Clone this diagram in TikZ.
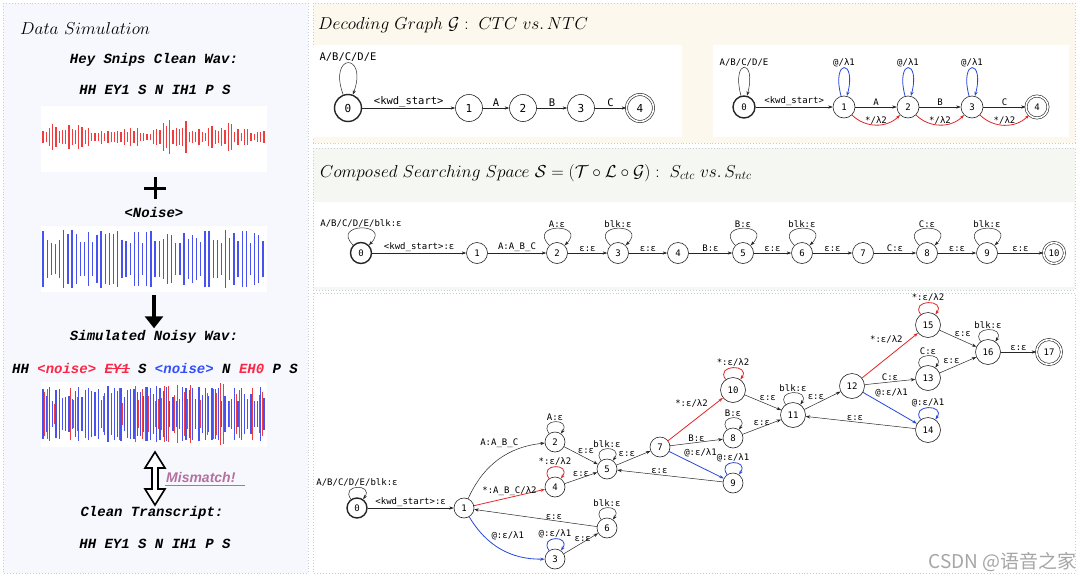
\documentclass[tikz,border=0pt]{standalone}
\usepackage{fontspec}
\usepackage{amsmath}
\usepackage{amssymb}
\usepackage{tikz}
\usetikzlibrary{arrows.meta}
\usepackage{xcolor}
\newfontfamily\gvfont{DejaVu Sans Mono}
\newfontfamily\codefont{Liberation Mono}
\newfontfamily\mmfont{Liberation Sans}
\newfontfamily\cjkfont{Noto Sans CJK SC}
\newcommand{\strk}[1]{\setbox0\hbox{#1}\rlap{\raisebox{0.3em}{\rule{\wd0}{1pt}}}\box0}
\definecolor{simbg}{RGB}{247,248,253}
\definecolor{decbg}{RGB}{253,248,237}
\definecolor{compbg}{RGB}{244,247,242}
\definecolor{dotline}{RGB}{200,206,216}
\definecolor{wavered}{RGB}{240,60,60}
\definecolor{waveblue}{RGB}{72,82,240}
\definecolor{arcred}{RGB}{228,38,38}
\definecolor{arcblue}{RGB}{38,72,222}
\definecolor{noisered}{RGB}{250,40,70}
\definecolor{noiseblue}{RGB}{50,80,250}
\definecolor{mismatch}{RGB}{180,112,160}

\begin{document}
\begin{tikzpicture}[x=1pt, y=1pt,
    st/.style={circle, draw=black!85, line width=0.6pt, fill=white,
        minimum size=20pt, inner sep=0pt, font=\gvfont\fontsize{9}{10}\selectfont},
    wide/.style={minimum size=25pt},
    init/.style={line width=1.4pt},
    final/.style={double, double distance=1.6pt},
    lbl/.style={font=\gvfont\fontsize{9}{10}\selectfont, inner sep=1pt},
    tr/.style={-{Stealth[length=4.5pt, width=3.2pt]}, line width=0.5pt, draw=black!85},
    rtr/.style={tr, draw=arcred, line width=0.8pt},
    btr/.style={tr, draw=arcblue, line width=0.8pt},
    tallloop/.style={out=110, in=70, loop, every loop/.style={min distance=45pt, looseness=0.1}},
    ntcloop/.style={out=105, in=75, loop, every loop/.style={min distance=39pt, looseness=0.1}},
    midloop/.style={out=135, in=45, loop, every loop/.style={min distance=32pt, looseness=0.1}},
    smloop/.style={out=125, in=55, loop, every loop/.style={min distance=19pt, looseness=0.1}},
    code/.style={font=\codefont\bfseries\itshape\fontsize{14}{16}\selectfont, inner sep=1pt},
    wavebox/.style={rectangle, fill=white, minimum width=226pt, minimum height=66pt, inner sep=0pt},
    panel/.style={draw=dotline, dotted, line width=0.9pt},
    title/.style={font=\fontsize{17}{20}\selectfont, anchor=west, inner sep=0pt},
    bigarrow/.style={line width=4pt, -{Triangle[length=12pt, width=18pt]}}
]
    \useasboundingbox (0,0) rectangle (1080,-576);

    % panels
    \fill[white] (0,0) rectangle (1080,-576);
    \path[panel, fill=simbg] (3,-3) rectangle (308,-573);
    \path[panel, fill=decbg] (313,-3) rectangle (1075,-143);
    \path[panel, fill=compbg] (313,-148) rectangle (1075,-290);
    \path[panel, fill=white] (313,-293) rectangle (1075,-573);
    \fill[white] (313,-45) rectangle (682,-137);
    \fill[white] (713,-45) rectangle (1069,-137);
    \fill[white] (314,-202) rectangle (1074,-287);

    % Data simulation
    \node[title, font=\fontsize{18}{20}\selectfont] (simtitle) at (20,-28) {$Data\ Simulation$};
    \node[code] (heyt) at (154,-60) {Hey Snips Clean Wav:};
    \node[code] (heyp) at (155,-90) {HH EY1 S N IH1 P S};
    \node[wavebox] (cleanwav) at (154,-138.5) {};
    \pgfmathsetseed{17}
    \foreach \i in {0,...,68}{
        \pgfmathsetmacro{\wh}{2+(4+13*rnd)*(0.25+0.75*abs(sin(\i*11))*abs(cos(\i*4)))}
        \draw[wavered, line width=1.1pt] (43+3.25*\i,-137-\wh) -- (43+3.25*\i,-137+\wh);
    }
    \coordinate (plus) at (155,-188);
    \draw[line width=3pt] ([xshift=-11pt]plus) -- ([xshift=11pt]plus)
        ([yshift=-11pt]plus) -- ([yshift=11pt]plus);
    \node[code] (noiset) at (154,-212) {<Noise>};
    \node[wavebox] (noisewav) at (154,-259) {};
    \foreach \i in {0,...,53}{
        \pgfmathsetmacro{\wh}{15+14*rnd}
        \draw[waveblue, line width=1.3pt] (43+4.15*\i,-259-\wh) -- (43+4.15*\i,-259+\wh);
    }
    \node[code] (simt) at (154,-337) {Simulated Noisy Wav:};
    \draw[bigarrow, shorten <=3pt, shorten >=1pt] (noisewav.south) -- (simt.north);
    \node[code] (simp) at (155,-368) {HH {\color{noisered}<noise>} {\color{noisered}\strk{EY1}}
        S {\color{noiseblue}<noise>} N {\color{noisered}EH0} P S};
    \node[wavebox, minimum height=65pt] (mixwav) at (154,-414.5) {};
    \foreach \i in {0,...,68}{
        \pgfmathsetmacro{\wh}{12+16*rnd}
        \draw[waveblue, line width=1.2pt] (43+3.25*\i,-414-\wh) -- (43+3.25*\i,-414+\wh);
        \pgfmathsetmacro{\pick}{rnd}
        \ifdim\pick pt>0.55pt
            \pgfmathsetmacro{\rh}{10+22*rnd}
            \draw[wavered, line width=1.1pt] (44.6+3.25*\i,-414-\rh) -- (44.6+3.25*\i,-414+\rh);
        \fi
    }
    \node[code] (cleant) at (152,-513) {Clean Transcript:};
    \node[code] (cleanp) at (155,-544) {HH EY1 S N IH1 P S};
    \coordinate (dtop) at (155,-452);
    \coordinate (dbot) at (155,-505);
    \draw[line width=1.6pt, fill=white, line join=miter]
        (dtop) -- ++(10,-16) -- ++(-7,0) -- ++(0,-21) -- ++(7,0) -- (dbot)
        -- ++(-10,16) -- ++(7,0) -- ++(0,21) -- ++(-7,0) -- cycle;
    \node[font=\mmfont\bfseries\itshape\fontsize{14}{16}\selectfont, text=mismatch,
        anchor=west, inner sep=1pt] (mm) at (165,-477) {Mismatch!};
    \draw[mismatch, line width=1.1pt] ([yshift=-2pt]mm.south west) -- ([xshift=8pt, yshift=-2pt]mm.south east);

    % Decoding graph
    \node[title] (dectitle) at (318,-25) {$Decoding\ Graph\ \mathcal{G}:\ CTC\ vs.\,NTC$};

    % CTC graph
    \begin{scope}[st/.append style={minimum size=27pt, font=\gvfont\fontsize{11}{12}\selectfont},
        lbl/.append style={font=\gvfont\fontsize{10.5}{12}\selectfont}]
        \node[st, init] (c0) at (348,-108) {0};
        \node[st] (c1) at (469,-108) {1};
        \node[st] (c2) at (523,-108) {2};
        \node[st] (c3) at (581,-108) {3};
        \node[st, final] (c4) at (640,-108) {4};
        \path (c0) edge[tr, tallloop] node[lbl, above] {A/B/C/D/E} ();
        \draw[tr] (c0) -- node[lbl, above] {<kwd\_start>} (c1);
        \draw[tr] (c1) -- node[lbl, above] {A} (c2);
        \draw[tr] (c2) -- node[lbl, above] {B} (c3);
        \draw[tr] (c3) -- node[lbl, above] {C} (c4);
    \end{scope}

    % NTC graph
    \begin{scope}[st/.append style={minimum size=22pt}]
        \node[st, init] (n0) at (744,-107) {0};
        \node[st] (n1) at (844,-107) {1};
        \node[st] (n2) at (908,-107) {2};
        \node[st] (n3) at (972,-107) {3};
        \node[st, final] (n4) at (1037,-107) {4};
        \path (n0) edge[tr, ntcloop] node[lbl, above] {A/B/C/D/E} ();
        \path (n1) edge[btr, ntcloop] node[lbl, above] {@/λ1} ();
        \path (n2) edge[btr, ntcloop] node[lbl, above] {@/λ1} ();
        \path (n3) edge[btr, ntcloop] node[lbl, above] {@/λ1} ();
        \draw[tr] (n0) -- node[lbl, above] {<kwd\_start>} (n1);
        \draw[tr] (n1) -- node[lbl, above] {A} (n2);
        \draw[tr] (n2) -- node[lbl, above] {B} (n3);
        \draw[tr] (n3) -- node[lbl, above] {C} (n4);
        \draw[rtr] (n1) to[out=-45, in=-135] node[lbl, above, inner sep=0.5pt] {*/λ2} (n2);
        \draw[rtr] (n2) to[out=-45, in=-135] node[lbl, above, inner sep=0.5pt] {*/λ2} (n3);
        \draw[rtr] (n3) to[out=-45, in=-135] node[lbl, above, inner sep=0.5pt] {*/λ2} (n4);
    \end{scope}

    % Composed searching space
    \node[title] (comptitle) at (320,-173)
        {$Composed\ Searching\ Space\ \mathcal{S}=(\mathcal{T}\circ\mathcal{L}\circ\mathcal{G}):\ S_{ctc}\ vs.\,S_{ntc}$};

    % S_ctc chain
    \begin{scope}[st/.append style={minimum size=21pt}]
        \node[st, init] (m0) at (361,-253) {0};
        \node[st] (m1) at (477,-253) {1};
        \node[st] (m2) at (557,-253) {2};
        \node[st] (m3) at (618,-253) {3};
        \node[st] (m4) at (678,-253) {4};
        \node[st] (m5) at (743,-253) {5};
        \node[st] (m6) at (802,-253) {6};
        \node[st] (m7) at (863,-253) {7};
        \node[st] (m8) at (927,-253) {8};
        \node[st] (m9) at (987,-253) {9};
        \node[st, final] (m10) at (1054,-253) {10};
        \path (m0) edge[tr, midloop] node[lbl, above] {A/B/C/D/E/blk:ε} ();
        \path (m2) edge[tr, midloop] node[lbl, above] {A:ε} ();
        \path (m3) edge[tr, midloop] node[lbl, above] {blk:ε} ();
        \path (m5) edge[tr, midloop] node[lbl, above] {B:ε} ();
        \path (m6) edge[tr, midloop] node[lbl, above] {blk:ε} ();
        \path (m8) edge[tr, midloop] node[lbl, above] {C:ε} ();
        \path (m9) edge[tr, midloop] node[lbl, above] {blk:ε} ();
        \draw[tr] (m0) -- node[lbl, above] {<kwd\_start>:ε} (m1);
        \draw[tr] (m1) -- node[lbl, above] {A:A\_B\_C} (m2);
        \draw[tr] (m2) -- node[lbl, above] {ε:ε} (m3);
        \draw[tr] (m3) -- node[lbl, above] {ε:ε} (m4);
        \draw[tr] (m4) -- node[lbl, above] {B:ε} (m5);
        \draw[tr] (m5) -- node[lbl, above] {ε:ε} (m6);
        \draw[tr] (m6) -- node[lbl, above] {ε:ε} (m7);
        \draw[tr] (m7) -- node[lbl, above] {C:ε} (m8);
        \draw[tr] (m8) -- node[lbl, above] {ε:ε} (m9);
        \draw[tr] (m9) -- node[lbl, above] {ε:ε} (m10);
    \end{scope}

    % S_ntc graph
    \node[st, init] (b0) at (357,-508) {0};
    \node[st] (b1) at (464,-508) {1};
    \node[st] (b2) at (555,-442) {2};
    \node[st] (b4) at (555,-487) {4};
    \node[st] (b3) at (555,-559) {3};
    \node[st] (b5) at (607,-469) {5};
    \node[st] (b6) at (607,-528) {6};
    \node[st] (b7) at (660,-447) {7};
    \node[st, wide] (b10) at (733,-390) {10};
    \node[st] (b8) at (733,-438) {8};
    \node[st] (b9) at (733,-483) {9};
    \node[st, wide] (b11) at (793,-415) {11};
    \node[st, wide] (b12) at (852,-386) {12};
    \node[st, wide] (b15) at (928,-325) {15};
    \node[st, wide] (b13) at (928,-378) {13};
    \node[st, wide] (b14) at (928,-430) {14};
    \node[st, wide] (b16) at (988,-352) {16};
    \node[st, wide, final] (b17) at (1049,-352) {17};

    \path (b0) edge[tr, smloop] node[lbl, above] {A/B/C/D/E/blk:ε} ();
    \path (b2) edge[tr, smloop] node[lbl, above] {A:ε} ();
    \path (b4) edge[rtr, smloop] node[lbl, above] {*:ε/λ2} ();
    \path (b3) edge[btr, smloop] node[lbl, above] {@:ε/λ1} ();
    \path (b5) edge[tr, smloop] node[lbl, above] {blk:ε} ();
    \path (b6) edge[tr, smloop] node[lbl, above] {blk:ε} ();
    \path (b10) edge[rtr, smloop] node[lbl, above] {*:ε/λ2} ();
    \path (b8) edge[tr, smloop] node[lbl, above] {B:ε} ();
    \path (b9) edge[btr, smloop] node[lbl, above] {@:ε/λ1} ();
    \path (b11) edge[tr, smloop] node[lbl, above] {blk:ε} ();
    \path (b15) edge[rtr, smloop] node[lbl, above] {*:ε/λ2} ();
    \path (b13) edge[tr, smloop] node[lbl, above] {C:ε} ();
    \path (b14) edge[btr, smloop] node[lbl, above] {@:ε/λ1} ();
    \path (b16) edge[tr, smloop] node[lbl, above] {blk:ε} ();

    \draw[tr] (b0) -- node[lbl, above] {<kwd\_start>:ε} (b1);
    \draw[tr] (b1) to[bend left=30] node[lbl, above left, pos=0.75] {A:A\_B\_C} (b2);
    \draw[rtr] (b1) -- node[lbl, above, pos=0.5] {*:A\_B\_C/λ2} (b4);
    \draw[btr] (b1) to[bend right=30] node[lbl, above right, pos=0.35] {@:ε/λ1} (b3);
    \draw[tr] (b6) -- node[lbl, above, pos=0.35] {ε:ε} (b1);
    \draw[tr] (b3) -- node[lbl, above, pos=0.55, inner sep=0.5pt] {ε:ε} (b6);
    \draw[tr] (b2) -- node[lbl, above right, pos=0.4, inner sep=0pt] {ε:ε} (b5);
    \draw[tr] (b4) -- node[lbl, above, pos=0.5] {ε:ε} (b5);
    \draw[tr] (b5) -- node[lbl, above left, pos=0.55, inner sep=0pt] {ε:ε} (b7);
    \draw[tr] (b9) -- node[lbl, above, pos=0.6] {ε:ε} (b5);
    \draw[rtr] (b7) -- node[lbl, above left, pos=0.75] {*:ε/λ2} (b10);
    \draw[tr] (b7) -- node[lbl, above, pos=0.5] {B:ε} (b8);
    \draw[btr] (b7) -- node[lbl, above right, pos=0.25] {@:ε/λ1} (b9);
    \draw[tr] (b10) -- node[lbl, above right, pos=0.4, inner sep=0pt] {ε:ε} (b11);
    \draw[tr] (b8) -- node[lbl, above, pos=0.5] {ε:ε} (b11);
    \draw[tr] (b11) -- node[lbl, above left, pos=0.55, inner sep=0pt] {ε:ε} (b12);
    \draw[rtr] (b12) -- node[lbl, above left, pos=0.75] {*:ε/λ2} (b15);
    \draw[tr] (b12) -- node[lbl, above, pos=0.5] {C:ε} (b13);
    \draw[btr] (b12) -- node[lbl, above right, pos=0.2] {@:ε/λ1} (b14);
    \draw[tr] (b14) -- node[lbl, above, pos=0.55] {ε:ε} (b11);
    \draw[tr] (b15) -- node[lbl, above right, pos=0.4, inner sep=0pt] {ε:ε} (b16);
    \draw[tr] (b13) -- node[lbl, above left, pos=0.55, inner sep=0pt] {ε:ε} (b16);
    \draw[tr] (b16) -- node[lbl, above] {ε:ε} (b17);

    % watermark
    \node[font=\cjkfont\fontsize{19}{21}\selectfont, text=black!35, anchor=east, inner sep=0pt]
        (wm) at (1077,-562) {CSDN @语音之家};
\end{tikzpicture}
\end{document}
